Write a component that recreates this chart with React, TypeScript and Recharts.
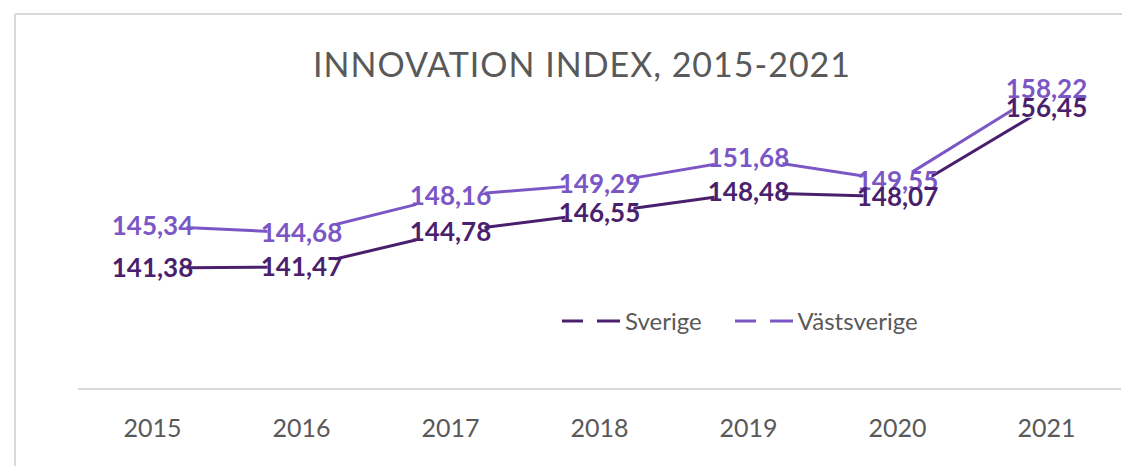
import { LineChart, Line, XAxis, YAxis, LabelList, Legend } from "recharts";

const YEARS = ["2015", "2016", "2017", "2018", "2019", "2020", "2021"];
const SVERIGE = [141.38, 141.47, 144.78, 146.55, 148.48, 148.07, 156.45];
const VASTSVERIGE = [145.34, 144.68, 148.16, 149.29, 151.68, 149.55, 158.22];
const SERIES = [
  { key: "sverige", name: "Sverige", color: "#4A1F6E" },
  { key: "vastsverige", name: "Västsverige", color: "#7B57C6" },
];
const Y_DOMAIN = [130, 160];
const TITLE = "INNOVATION INDEX, 2015-2021";

const FONT = "Lato, 'Open Sans', sans-serif";
const GREY_TEXT = "#595959";
const GRID = "#d9d9d9";
const LABEL_SIZE = 26;

const data = YEARS.map((year, i) => ({
  year,
  sverige: SVERIGE[i],
  vastsverige: VASTSVERIGE[i],
}));

const fmt = (v: number) => v.toFixed(2).replace(".", ",");

const pos = (props: any) => {
  const vb = props.viewBox || {};
  return { x: props.x ?? vb.x, y: props.y ?? vb.y };
};

// white box that breaks the lines behind a value label
function LabelBox(props: any) {
  const { x, y } = pos(props);
  if (x == null || y == null) return null;
  const w = 3.15 * LABEL_SIZE;
  return <rect x={x - w / 2 + 7} y={y - 10} width={w - 14} height={20} fill="#fff" />;
}

function makeLabel(color: string) {
  return function ValueLabel(props: any) {
    const { x, y } = pos(props);
    if (x == null || y == null) return null;
    return (
      <text
        x={x}
        y={y}
        dy={9}
        textAnchor="middle"
        fill={color}
        fontSize={LABEL_SIZE}
        fontWeight={700}
        fontFamily={FONT}
      >
        {fmt(Number(props.value))}
      </text>
    );
  };
}

function LegendBox() {
  return (
    <div style={{ display: "flex", alignItems: "center", fontFamily: FONT, fontSize: 24, color: GREY_TEXT }}>
      {SERIES.map((s, i) => (
        <div key={s.key} style={{ display: "flex", alignItems: "center", marginLeft: i ? 33 : 0 }}>
          <svg width={58} height={6} style={{ marginRight: 5 }}>
            <line x1={0} y1={3} x2={21} y2={3} stroke={s.color} strokeWidth={3} />
            <line x1={35} y1={3} x2={58} y2={3} stroke={s.color} strokeWidth={3} />
          </svg>
          <span>{s.name}</span>
        </div>
      ))}
    </div>
  );
}

export default function App() {
  const labelOrder = [...SERIES].reverse();
  return (
    <div
      style={{
        position: "fixed",
        left: 0,
        top: 0,
        width: 1122,
        height: 466,
        overflow: "hidden",
        background: "#fff",
      }}
    >
      <svg width={1122} height={466} style={{ position: "absolute", left: 0, top: 0 }}>
        <line x1={15} y1={14} x2={1122} y2={14} stroke={GRID} strokeWidth={2} />
        <line x1={15} y1={14} x2={15} y2={466} stroke={GRID} strokeWidth={2} />
        <text
          x={582}
          y={77}
          textAnchor="middle"
          fill={GREY_TEXT}
          fontSize={34}
          letterSpacing={1}
          fontFamily={FONT}
        >
          {TITLE}
        </text>
      </svg>
      <div style={{ position: "absolute", left: 0, top: 0 }}>
        <LineChart
          width={1122}
          height={466}
          data={data}
          margin={{ top: 70, right: 1, bottom: 0, left: 78 }}
        >
          <XAxis
            dataKey="year"
            height={77}
            tickLine={false}
            tickSize={0}
            tickMargin={30}
            axisLine={{ stroke: GRID, strokeWidth: 2 }}
            tick={{ fill: GREY_TEXT, fontSize: 25, fontFamily: FONT }}
            padding={{ left: 74.5, right: 74.5 }}
            interval={0}
          />
          <YAxis hide domain={Y_DOMAIN} />
          {SERIES.map((s) => (
            <Line
              key={s.key}
              type="linear"
              dataKey={s.key}
              name={s.name}
              stroke={s.color}
              strokeWidth={3}
              dot={false}
              activeDot={false}
              isAnimationActive={false}
            />
          ))}
          {SERIES.map((s) => (
            <Line
              key={s.key + "-boxes"}
              type="linear"
              dataKey={s.key}
              stroke="none"
              dot={false}
              activeDot={false}
              legendType="none"
              isAnimationActive={false}
            >
              <LabelList dataKey={s.key} content={LabelBox} />
            </Line>
          ))}
          {labelOrder.map((s) => (
            <Line
              key={s.key + "-labels"}
              type="linear"
              dataKey={s.key}
              stroke="none"
              dot={false}
              activeDot={false}
              legendType="none"
              isAnimationActive={false}
            >
              <LabelList dataKey={s.key} content={makeLabel(s.color)} />
            </Line>
          ))}
          <Legend
            layout="vertical"
            align="center"
            verticalAlign="middle"
            content={() => <LegendBox />}
            wrapperStyle={{ left: 562, top: 306, width: "auto" }}
          />
        </LineChart>
      </div>
    </div>
  );
}
